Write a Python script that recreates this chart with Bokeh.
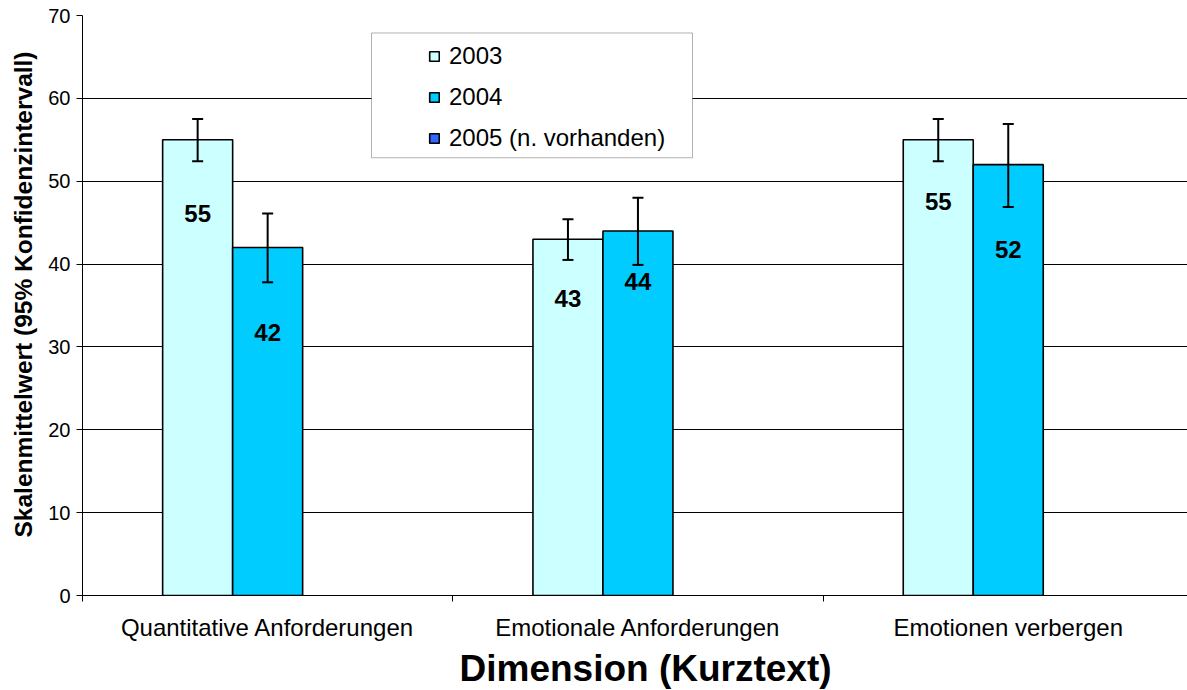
from bokeh.plotting import figure
from bokeh.models import (Range1d, FixedTicker, Whisker, ColumnDataSource, Legend,
                          LegendItem, BoxAnnotation, TeeHead, Title)
from bokeh.core.properties import value
from bokeh.embed import file_html
from bokeh.resources import INLINE

# ---------------- data ----------------
categories = ["Quantitative Anforderungen", "Emotionale Anforderungen", "Emotionen verbergen"]
series_names = ["2003", "2004", "2005 (n. vorhanden)"]
values_2003 = [55, 43, 55]
values_2004 = [42, 44, 52]
values_2005 = [None, None, None]  # nicht vorhanden
ci_low_2003 = [52.4, 40.5, 52.4]
ci_high_2003 = [57.5, 45.4, 57.5]
ci_low_2004 = [37.8, 39.9, 46.9]
ci_high_2004 = [46.1, 48.0, 56.9]
y_ticks = [0, 10, 20, 30, 40, 50, 60, 70]
x_title = "Dimension (Kurztext)"
y_title = "Skalenmittelwert (95% Konfidenzintervall)"

# ---------------- styling / layout ----------------
colors = ["#CCFFFF", "#00CCFF", "#3366FF"]
FONT = "Liberation Sans"
CAT_PX = 370.3            # pixels per category
FRAME_W = 1105
BW = 70 / CAT_PX           # bar width in category units
# data-label drop below the bar top (manually placed labels in the original)
label_drop_2003 = [8.9, 7.1, 7.5]
label_drop_2004 = [10.2, 6.1, 10.3]

p = figure(width=1187, height=690, output_backend="svg", toolbar_location=None,
           x_range=Range1d(0, FRAME_W / CAT_PX), y_range=Range1d(0, 70),
           min_border_left=82, min_border_right=0, min_border_top=15, min_border_bottom=94)
p.outline_line_color = None
p.background_fill_color = "white"
p.border_fill_color = "white"
p.xgrid.visible = False
p.ygrid.ticker = FixedTicker(ticks=y_ticks)
p.ygrid.grid_line_color = "black"
p.ygrid.grid_line_width = 1

# y axis
ya = p.yaxis[0]
ya.ticker = FixedTicker(ticks=y_ticks)
ya.major_tick_out = 6
ya.major_tick_in = 0
ya.minor_tick_out = 0
ya.minor_tick_in = 0
ya.axis_line_color = "black"
ya.major_tick_line_color = "black"
ya.major_label_text_font = FONT
ya.major_label_text_font_size = "20px"
ya.major_label_text_color = "black"
ya.major_label_standoff = 6

# y title as a side title (allows an offset along the axis)
p.add_layout(Title(text=y_title, align="left", offset=58, vertical_align="middle",
                   text_font=FONT, text_font_size="24.5px", text_font_style="bold",
                   text_color="black", standoff=16), "left")

# x axis: labels at category centres, tick marks at category boundaries
centers = [i + 0.5 for i in range(len(categories))]
bounds = [float(i) for i in range(len(categories) + 1)]
xa = p.xaxis[0]
xa.ticker = FixedTicker(ticks=centers, minor_ticks=bounds)
xa.major_label_overrides = {c: name for c, name in zip(centers, categories)}
xa.major_tick_out = 0
xa.major_tick_in = 0
xa.minor_tick_out = 6
xa.minor_tick_in = 0
xa.minor_tick_line_color = "black"
xa.axis_line_color = "black"
xa.major_label_text_font = FONT
xa.major_label_text_font_size = "24px"
xa.major_label_text_color = "black"
xa.major_label_standoff = 12

p.add_layout(Title(text=x_title, align="left", offset=377, text_font=FONT,
                   text_font_size="37px", text_font_style="bold", text_color="black",
                   standoff=4), "below")

# bars
all_values = [values_2003, values_2004, values_2005]
renderers = []
for k, vals in enumerate(all_values):
    off = (k - 1) * BW
    xs = [centers[i] + off for i in range(len(vals))]
    tops = [float("nan") if v is None else v for v in vals]
    src = ColumnDataSource(dict(x=xs, top=tops))
    r = p.vbar(x="x", top="top", width=BW, source=src, fill_color=colors[k],
               line_color="black", line_width=1.6)
    renderers.append(r)

# error bars
for k, (lo, hi) in enumerate([(ci_low_2003, ci_high_2003), (ci_low_2004, ci_high_2004)]):
    off = (k - 1) * BW
    src = ColumnDataSource(dict(x=[c + off for c in centers], lower=lo, upper=hi))
    w = Whisker(base="x", lower="lower", upper="upper", source=src,
                line_color="black", line_width=2, level="annotation",
                upper_head=TeeHead(size=11, line_color="black", line_width=2),
                lower_head=TeeHead(size=11, line_color="black", line_width=2))
    p.add_layout(w)

# data labels
for k, (vals, drop) in enumerate([(values_2003, label_drop_2003), (values_2004, label_drop_2004)]):
    off = (k - 1) * BW
    src = ColumnDataSource(dict(x=[c + off for c in centers],
                                y=[v - d for v, d in zip(vals, drop)],
                                t=[str(v) for v in vals]))
    p.text(x="x", y="y", text="t", source=src, text_font=value(FONT),
           text_font_style="bold", text_font_size="24px", text_align="center",
           text_baseline="middle", text_color="black")

# legend box + legend
px_to_x = lambda px: px / CAT_PX
px_to_y = lambda py: 70 - py / 8.3
box = BoxAnnotation(left=px_to_x(289), right=px_to_x(610), top=px_to_y(17.5), bottom=px_to_y(142.5),
                    fill_color="white", fill_alpha=1, line_color="black", line_width=1,
                    level="annotation")
p.add_layout(box)

legend = Legend(items=[LegendItem(label=n, renderers=[r]) for n, r in zip(series_names, renderers)],
                location=(346, 437), orientation="vertical", padding=0, margin=0, spacing=0,
                label_height=41, glyph_width=12, glyph_height=12, label_standoff=9,
                border_line_color=None, background_fill_alpha=0,
                label_text_font=FONT, label_text_font_size="24px", label_text_color="black")
p.add_layout(legend)

open("out.html", "w").write(file_html(p, INLINE))
